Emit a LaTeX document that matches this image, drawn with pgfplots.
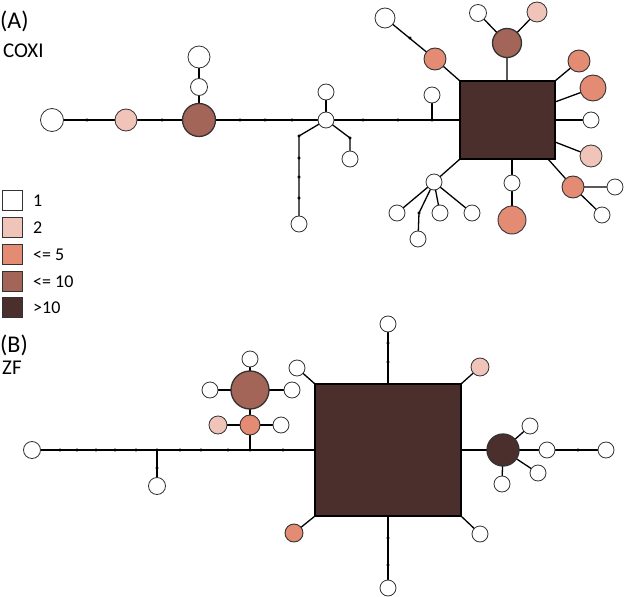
\documentclass[border=0pt]{standalone}
\usepackage{fontspec}
\setmainfont{Carlito}
\usepackage{pgfplots}
\pgfplotsset{compat=1.18}

\definecolor{cpink}{HTML}{F0C4B8}
\definecolor{corange}{HTML}{E38B73}
\definecolor{cbrown}{HTML}{A26558}
\definecolor{cdark}{HTML}{4B2F2C}
\definecolor{cring}{HTML}{555555}

\pgfplotsset{
  edge/.style={black, line width=1.3pt},
  dots/.style={only marks, mark=*, mark size=1.4pt, black},
  hap/.style 2 args={scatter, only marks, mark=*, line width=#2,
    scatter/use mapped color={draw=cring!60!black, fill=#1},
    visualization depends on={\thisrow{r}\as\rr},
    scatter/@pre marker code/.append style={/tikz/mark size=\rr}},
}

\begin{document}
\begin{tikzpicture}
\begin{axis}[
    scale only axis, width=625pt, height=597pt,
    xmin=0, xmax=625, ymin=0, ymax=597, y dir=reverse,
    axis lines=none, clip=false,
  ]
  \addplot[draw=none] coordinates {(0,0) (625,597)};

  % ---------- (A) COXI: edges
  \addplot[edge] coordinates {(52,120) (460,120)};
  \addplot[edge] coordinates {(199,120) (199,57)};
  \addplot[edge] coordinates {(326,120) (326,92)};
  \addplot[edge] coordinates {(326,120) (299,136) (299,224)};
  \addplot[edge] coordinates {(326,120) (350,138) (350,159)};
  \addplot[edge] coordinates {(432,120) (432,95)};
  \addplot[edge] coordinates {(460,81) (435,59) (385,18)};
  \addplot[edge] coordinates {(507,81) (507,43) (478,13)};
  \addplot[edge] coordinates {(507,43) (537,12)};
  \addplot[edge] coordinates {(555,81) (579,61)};
  \addplot[edge] coordinates {(555,102) (593,88)};
  \addplot[edge] coordinates {(555,120) (591,120)};
  \addplot[edge] coordinates {(555,142) (591,156)};
  \addplot[edge] coordinates {(548,159) (573,187) (615,187)};
  \addplot[edge] coordinates {(573,187) (602,215)};
  \addplot[edge] coordinates {(512,159) (512,220)};
  \addplot[edge] coordinates {(460,159) (434,182) (397,213)};
  \addplot[edge] coordinates {(434,182) (419,213) (418,239)};
  \addplot[edge] coordinates {(434,182) (440,213)};
  \addplot[edge] coordinates {(434,182) (472,213)};
  \addplot[dots] coordinates {(87,120) (162,120) (240,120) (265,120) (292,120)
    (363,120) (398,120) (432,120) (299,136) (299,158) (299,177) (299,198)
    (350,138) (410,38) (419,213)};

  % ---------- (B) ZF: edges
  \addplot[edge] coordinates {(32,450) (315,450)};
  \addplot[edge] coordinates {(157,450) (157,486)};
  \addplot[edge] coordinates {(250,450) (250,359)};
  \addplot[edge] coordinates {(218,425) (281,425)};
  \addplot[edge] coordinates {(210,390) (292,390)};
  \addplot[edge] coordinates {(297,368) (315,384)};
  \addplot[edge] coordinates {(388,324) (388,384)};
  \addplot[edge] coordinates {(461,384) (480,367)};
  \addplot[edge] coordinates {(461,450) (606,450)};
  \addplot[edge] coordinates {(503,450) (530,426)};
  \addplot[edge] coordinates {(503,450) (538,473)};
  \addplot[edge] coordinates {(503,450) (502,484)};
  \addplot[edge] coordinates {(388,516) (388,588)};
  \addplot[edge] coordinates {(461,516) (480,534)};
  \addplot[edge] coordinates {(315,516) (294,533)};
  \addplot[dots] coordinates {(60,450) (77,450) (96,450) (115,450) (136,450)
    (157,450) (157,468) (180,450) (201,450) (228,450) (250,450) (283,450)
    (388,343) (388,362) (388,538) (388,565) (578,450)};

  % ---------- haplotypes, by frequency class
  \addplot[hap={white}{0.8pt}] table[row sep=\\] {x y r\\
    52 120 11.5\\ 199 87 8.5\\ 199 57 11\\ 326 120 8\\ 326 92 8\\ 299 224 8\\
    350 159 8\\ 432 95 8\\ 385 18 10\\ 478 13 8.5\\ 591 120 8\\ 615 187 8\\
    602 215 8\\ 512 183 8\\ 434 182 8\\ 397 213 8\\ 440 213 8\\ 472 213 8\\
    418 239 8\\
    32 450 8.5\\ 157 486 8.5\\ 281 425 8\\ 210 390 8\\ 292 390 8\\ 250 359 8\\
    297 368 8\\ 388 324 8\\ 530 426 8\\ 547 450 8\\ 606 450 8\\ 538 473 8\\
    502 484 8\\ 388 588 8\\ 480 534 8\\
  };
  \addplot[hap={cpink}{0.8pt}] table[row sep=\\] {x y r\\
    126 120 11\\ 537 12 10\\ 591 156 11\\ 218 425 9\\ 480 367 9\\
  };
  \addplot[hap={corange}{0.9pt}] table[row sep=\\] {x y r\\
    435 59 11\\ 579 61 11\\ 593 88 13\\ 573 187 11\\ 512 220 14\\
    250 425 10\\ 294 533 9\\
  };
  \addplot[hap={cbrown}{1.3pt}] table[row sep=\\] {x y r\\
    199 120 16.5\\ 507 43 14.5\\ 250 390 19\\
  };
  \addplot[hap={cdark}{1.3pt}] table[row sep=\\] {x y r\\
    503 450 16\\
  };
  \addplot[only marks, mark=square*, mark size=39pt,
    mark options={xscale=1.218, fill=cdark, draw=black, line width=1.2pt}]
    coordinates {(507.5,120)};
  \addplot[only marks, mark=square*, mark size=66pt,
    mark options={xscale=1.106, fill=cdark, draw=black, line width=1.2pt}]
    coordinates {(388,450)};

  % ---------- legend
  \addplot[only marks, mark=square*, mark size=10pt, mark options={draw=cring!60!black, line width=1pt, fill=white}] coordinates {(12.5,200)};
  \addplot[only marks, mark=square*, mark size=10pt, mark options={draw=cring!60!black, line width=1pt, fill=cpink}] coordinates {(12.5,227)};
  \addplot[only marks, mark=square*, mark size=10pt, mark options={draw=cring!60!black, line width=1pt, fill=corange}] coordinates {(12.5,254)};
  \addplot[only marks, mark=square*, mark size=10pt, mark options={draw=cring!60!black, line width=1pt, fill=cbrown}] coordinates {(12.5,281)};
  \addplot[only marks, mark=square*, mark size=10pt, mark options={draw=cring!60!black, line width=1pt, fill=cdark}] coordinates {(12.5,307)};
  \begin{scope}[every node/.style={anchor=base west, inner sep=0pt, font=\fontsize{18}{21}\selectfont}]
    \node at (axis cs:33,206) {1};
    \node at (axis cs:33,233) {2};
    \node at (axis cs:33,260) {<= 5};
    \node at (axis cs:33,287) {<= 10};
    \node at (axis cs:33,313) {>10};
  \end{scope}

  % ---------- panel labels
  \begin{scope}[every node/.style={anchor=base west, inner sep=0pt}]
    \node[font=\fontsize{24}{26}\selectfont] at (axis cs:0,28) {(A)};
    \node[font=\fontsize{21}{24}\selectfont] at (axis cs:3,57) {COXI};
    \node[font=\fontsize{24}{26}\selectfont] at (axis cs:0,352) {(B)};
    \node[font=\fontsize{21}{24}\selectfont] at (axis cs:2,374) {ZF};
  \end{scope}
\end{axis}
\end{tikzpicture}
\end{document}
